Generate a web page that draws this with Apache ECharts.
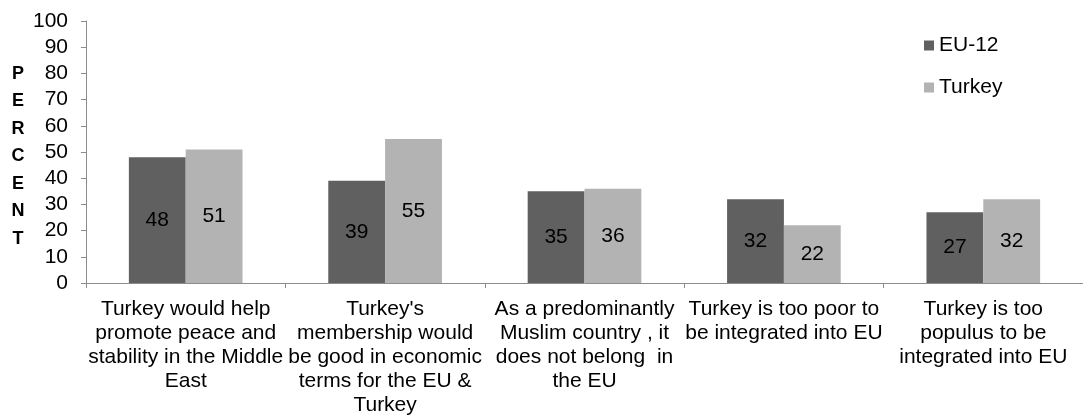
<!DOCTYPE html>
<html>
<head>
<meta charset="utf-8">
<script src="https://cdn.jsdelivr.net/npm/echarts@6/dist/echarts.min.js"></script>
<style>
  html, body { margin: 0; padding: 0; background: #fff; }
  #chart { width: 1083px; height: 417px; }
</style>
</head>
<body>
<div id="chart"></div>
<script>
// Survey statements (wrapped as they appear under the axis)
const categories = [
  "Turkey would help\npromote peace and\nstability in the Middle\nEast",
  "Turkey's\nmembership would\nbe good in economic\nterms for the EU &\nTurkey",
  "As a predominantly\nMuslim country , it\ndoes not belong  in\nthe EU",
  "Turkey is too poor to\nbe integrated into EU",
  "Turkey is too\npopulus to be\nintegrated into EU"
];
const seriesNames = ["EU-12", "Turkey"];
const eu12Values = [48, 39, 35, 32, 27];
const turkeyValues = [51, 55, 36, 22, 32];
const yTicks = { min: 0, max: 100, step: 10 };
const yTitle = "PERCENT";

const FONT = "'Liberation Sans', Arial, sans-serif";
const axisGray = "#8c8c8c";

const chart = echarts.init(document.getElementById("chart"), null, { renderer: "canvas" });

const barLabel = {
  show: true,
  position: "inside",
  color: "#000",
  fontFamily: FONT,
  fontSize: 21
};

chart.setOption({
  animation: false,
  backgroundColor: "#fff",
  textStyle: { fontFamily: FONT },
  grid: { left: 86, right: -12, top: 21, bottom: 131, containLabel: false },
  legend: {
    orient: "vertical",
    left: 924,
    top: 35,
    padding: 0,
    itemWidth: 10,
    itemHeight: 10,
    itemGap: 21,
    icon: "rect",
    data: seriesNames,
    textStyle: { color: "#000", fontFamily: FONT, fontSize: 21, lineHeight: 21 }
  },
  xAxis: {
    type: "category",
    data: categories,
    axisLine: { show: true, lineStyle: { color: axisGray, width: 1 } },
    axisTick: { show: true, length: 5, lineStyle: { color: axisGray } },
    axisLabel: {
      interval: 0,
      color: "#000",
      fontFamily: FONT,
      fontSize: 21,
      lineHeight: 24,
      margin: 14,
      align: "center"
    },
    splitLine: { show: false }
  },
  yAxis: {
    type: "value",
    min: yTicks.min,
    max: yTicks.max,
    interval: yTicks.step,
    axisLine: { show: true, lineStyle: { color: axisGray, width: 1 } },
    axisTick: { show: true, length: 5, lineStyle: { color: axisGray } },
    axisLabel: { color: "#000", fontFamily: FONT, fontSize: 21, margin: 18 },
    splitLine: { show: false }
  },
  // Vertical axis title, one letter per line
  graphic: [{
    type: "text",
    x: 18,
    y: 60,
    style: {
      text: yTitle.split("").join("\n"),
      fontFamily: FONT,
      fontWeight: "bold",
      fontSize: 18,
      lineHeight: 27.5,
      fill: "#000",
      align: "center",
      verticalAlign: "top"
    }
  }],
  series: [
    {
      name: seriesNames[0],
      type: "bar",
      data: eu12Values,
      barWidth: "28.5%",
      barGap: "0%",
      itemStyle: { color: "#606060" },
      label: barLabel
    },
    {
      name: seriesNames[1],
      type: "bar",
      data: turkeyValues,
      barWidth: "28.5%",
      barGap: "0%",
      itemStyle: { color: "#b3b3b3" },
      label: barLabel
    }
  ]
});
</script>
</body>
</html>
